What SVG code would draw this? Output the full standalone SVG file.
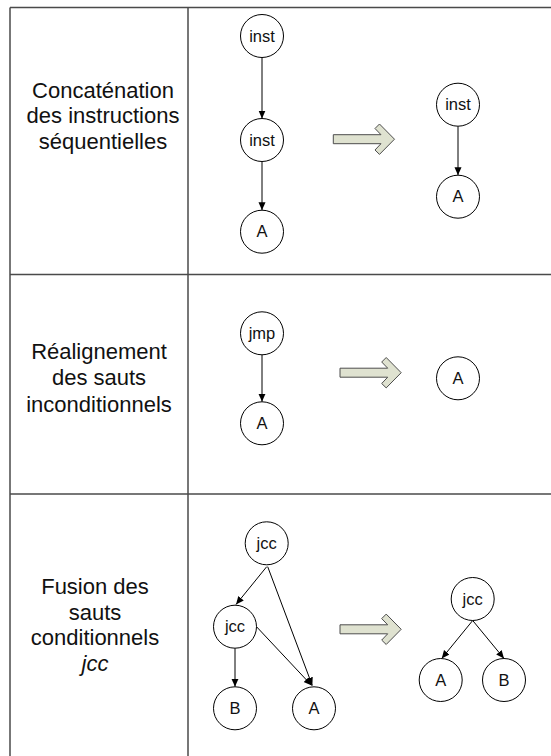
<svg xmlns="http://www.w3.org/2000/svg" width="551" height="756" viewBox="0 0 551 756">
  <defs>
    <style>
      .grid { stroke: #4a4a4a; stroke-width: 1.5; fill: none; }
      .node circle { fill: #ffffff; stroke: #000000; stroke-width: 1; }
      .node text { font-family: "Liberation Sans", Arial, sans-serif; font-size: 16.5px; fill: #111111; text-anchor: middle; }
      .label { font-family: "Liberation Sans", Arial, sans-serif; font-size: 22px; fill: #111111; text-anchor: middle; }
      .edge { stroke: #000000; stroke-width: 1; fill: none; marker-end: url(#tip); }
      .xform { fill: #dfe2d0; stroke: #4d4d4d; stroke-width: 1; stroke-linejoin: round; }
    </style>
    <marker id="tip" markerUnits="userSpaceOnUse" markerWidth="8" markerHeight="8" viewBox="0 0 8 8" refX="8" refY="4" orient="auto">
      <path d="M0,0.5 L8,4 L0,7.5 Z" fill="#000000"/>
    </marker>
    <!-- block arrow marking the rewrite, drawn at the origin -->
    <polygon id="rewrite" class="xform" points="0,-4.5 47.7,-4.5 41.7,-10.7 46.2,-15.2 61.2,0 46.2,15.2 41.7,10.8 47.7,4.5 0,4.5"/>
  </defs>

  <!-- table grid -->
  <g id="grid">
    <line class="grid" x1="10" y1="7.5" x2="551" y2="7.5"/>
    <line class="grid" x1="10" y1="7.5" x2="10" y2="756"/>
    <line class="grid" x1="188" y1="7.5" x2="188" y2="756"/>
    <line class="grid" x1="10" y1="274.5" x2="551" y2="274.5"/>
    <line class="grid" x1="10" y1="494" x2="551" y2="494"/>
  </g>

  <!-- row captions -->
  <g id="captions">
    <text class="label" x="103" y="97.5">Concaténation</text>
    <text class="label" x="103" y="123">des instructions</text>
    <text class="label" x="103" y="148.5">séquentielles</text>

    <text class="label" x="99" y="358.5">Réalignement</text>
    <text class="label" x="99" y="385">des sauts</text>
    <text class="label" x="99" y="411.5">inconditionnels</text>

    <text class="label" x="95" y="593.5">Fusion des</text>
    <text class="label" x="95" y="619.5">sauts</text>
    <text class="label" x="95" y="645">conditionnels</text>
    <text class="label" x="95" y="670.5" font-style="italic">jcc</text>
  </g>

  <!-- rewrite arrows -->
  <g id="rewrites">
    <use href="#rewrite" x="333.3" y="139.2"/>
    <use href="#rewrite" x="340" y="372.7"/>
    <use href="#rewrite" x="340" y="629.3"/>
  </g>

  <!-- connectors -->
  <g id="connectors">
    <line class="edge" x1="262" y1="57.5" x2="262" y2="118.5"/>
    <line class="edge" x1="262" y1="161.5" x2="262" y2="210.2"/>
    <line class="edge" x1="458" y1="126.2" x2="458" y2="175.2"/>

    <line class="edge" x1="262" y1="354.8" x2="262" y2="401.8"/>

    <line class="edge" x1="266.7" y1="566.7" x2="236" y2="604.5"/>
    <line class="edge" x1="267.7" y1="566.7" x2="312.3" y2="685.5"/>
    <line class="edge" x1="235" y1="648.2" x2="235" y2="686.8"/>
    <line class="edge" x1="256.5" y1="626.7" x2="311.7" y2="685.5"/>
    <line class="edge" x1="472.7" y1="620.5" x2="441.7" y2="658.5"/>
    <line class="edge" x1="472.7" y1="620.5" x2="504" y2="658.5"/>
  </g>

  <!-- row 1 nodes -->
  <g id="r1-inst1" class="node"><circle cx="262" cy="36" r="21.5"/><text x="262" y="41.7">inst</text></g>
  <g id="r1-inst2" class="node"><circle cx="262" cy="140" r="21.5"/><text x="262" y="145.7">inst</text></g>
  <g id="r1-a" class="node"><circle cx="262" cy="231.7" r="21.5"/><text x="262" y="237.4">A</text></g>
  <g id="r1-inst-out" class="node"><circle cx="458" cy="104.7" r="21.5"/><text x="458" y="110.4">inst</text></g>
  <g id="r1-a-out" class="node"><circle cx="458" cy="196.7" r="21.5"/><text x="458" y="202.4">A</text></g>

  <!-- row 2 nodes -->
  <g id="r2-jmp" class="node"><circle cx="262" cy="333.3" r="21.5"/><text x="262" y="339">jmp</text></g>
  <g id="r2-a" class="node"><circle cx="262" cy="423.3" r="21.5"/><text x="262" y="429">A</text></g>
  <g id="r2-a-out" class="node"><circle cx="458" cy="378.3" r="21.5"/><text x="458" y="384">A</text></g>

  <!-- row 3 nodes -->
  <g id="r3-jcc1" class="node"><circle cx="266.7" cy="543.3" r="21.5"/><text x="266.7" y="549">jcc</text></g>
  <g id="r3-jcc2" class="node"><circle cx="235" cy="626.7" r="21.5"/><text x="235" y="632.4">jcc</text></g>
  <g id="r3-b" class="node"><circle cx="235" cy="708.3" r="21.5"/><text x="235" y="714">B</text></g>
  <g id="r3-a" class="node"><circle cx="314" cy="708.3" r="21.5"/><text x="314" y="714">A</text></g>
  <g id="r3-jcc-out" class="node"><circle cx="472.7" cy="599" r="21.5"/><text x="472.7" y="604.7">jcc</text></g>
  <g id="r3-a-out" class="node"><circle cx="440.7" cy="680" r="21.5"/><text x="440.7" y="685.7">A</text></g>
  <g id="r3-b-out" class="node"><circle cx="504" cy="680" r="21.5"/><text x="504" y="685.7">B</text></g>
</svg>
